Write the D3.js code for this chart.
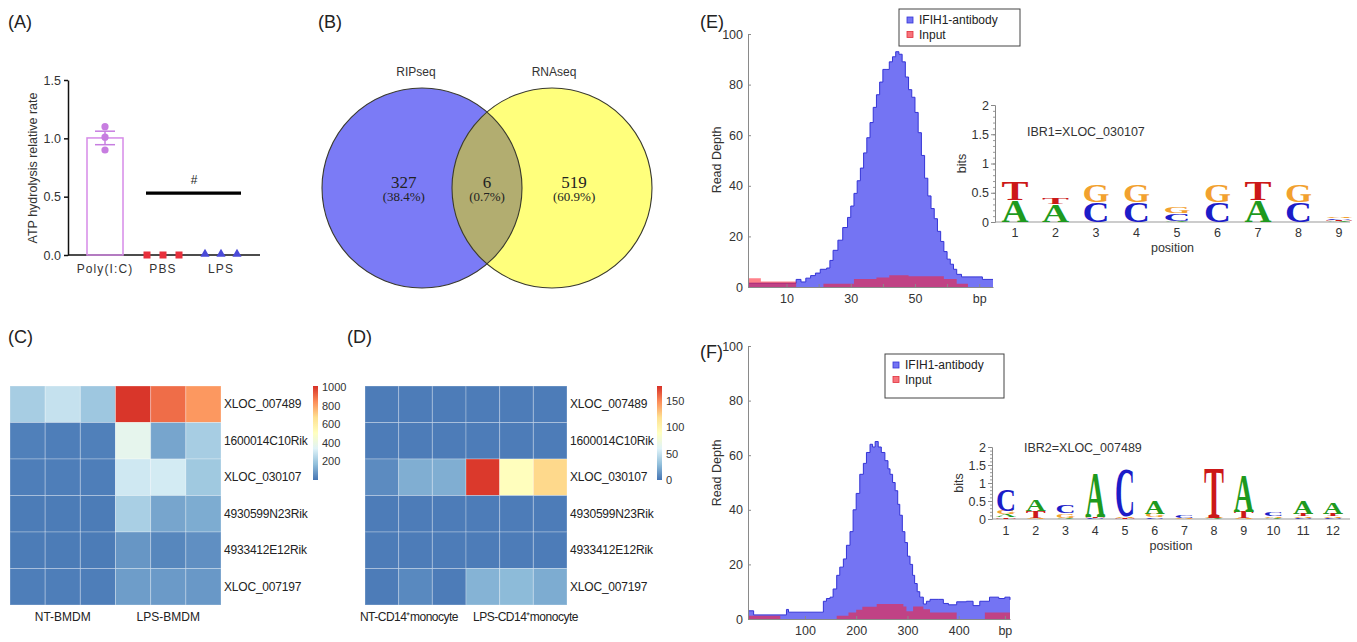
<!DOCTYPE html>
<html lang="en">
<head>
<meta charset="utf-8">
<title>IFIH1 binding lncRNA figure</title>
<script src="https://d3js.org/d3.v7.min.js"></script>
<style>
  body { margin: 0; background: #fff; }
</style>
</head>
<body>
<script>
// ---------- data ----------
// (A) ATP hydrolysis
const atpGroups = ["Poly(I:C)", "PBS", "LPS"];
const atpPoly = [1.10, 1.01, 0.90];
const atpPBS = [0, 0, 0];
const atpLPS = [0, 0, 0];
const atpTicks = [0, 0.5, 1.0, 1.5];
const atpSigLevel = 0.53;

// (B) Venn
const vennSets = ["RIPseq", "RNAseq"];
const vennCounts = [327, 6, 519];
const vennPct = ["(38.4%)", "(0.7%)", "(60.9%)"];

// (C)/(D) heatmaps
const heatRows = ["XLOC_007489", "1600014C10Rik", "XLOC_030107", "4930599N23Rik", "4933412E12Rik", "XLOC_007197"];
const bmdmGroups = ["NT-BMDM", "LPS-BMDM"];
const bmdmValues = [
  [215, 280, 195, 1000, 900, 820],
  [25, 20, 25, 370, 110, 215],
  [20, 20, 20, 300, 310, 200],
  [15, 15, 15, 220, 110, 125],
  [15, 15, 15, 75, 40, 60],
  [20, 20, 20, 90, 85, 80]
];
const bmdmTicks = [200, 400, 600, 800, 1000];
const monoGroups = ["NT-CD14\u207Amonocyte", "LPS-CD14\u207Amonocyte"];
const monoValues = [
  [3, 3, 3, 3, 3, 3],
  [3, 3, 3, 3, 3, 3],
  [9, 23, 23, 175, 90, 121],
  [3, 3, 3, 3, 3, 3],
  [3, 3, 3, 3, 3, 3],
  [3, 8, 3, 25, 28, 22]
];
const monoTicks = [0, 50, 100, 150];

// (E)/(F) read depth, [bp, depth] step points
const depthTicks = [0, 20, 40, 60, 80, 100];
const peakEab = [[-2,1.5],[13,3],[14.5,2],[16,3.5],[17.5,4.5],[19,5.5],[20.5,7],[22.5,7.5],[23.5,10.5],[24.5,14.5],[26,18.5],[27.5,23.5],[29,27.5],[30,32],[31,37],[32,42],[33,47],[34,53],[35,59],[36,65],[37,71],[38,76],[39,81],[40,86],[41,86],[42,89],[43,91],[44,93],[45,92],[46,89],[47,83],[48,78],[49,75],[50,69],[51,61],[52,52],[53,43],[54,36],[55,31],[56,27],[57,22],[58,18],[59,14],[60,11],[61,9],[62,7],[63,5],[64.5,4],[69,4],[71,3],[74.3,3]];
const peakEinput = [[-2,3.5],[2,2.2],[13,0],[21.5,1.3],[31,3.2],[38,3.8],[42,4.6],[48,4.2],[59,3.2],[63,1.3],[66.5,0],[74.3,0]];
const bpTicksE = [10, 20, 30, 40, 50, 60, 70];
const bpLabelsE = {10: "10", 30: "30", 50: "50", 70: "bp"};
const peakFab = [[-11,3],[0,1.5],[64,3.5],[68,2.5],[136,6.5],[142,7.5],[149,8],[155,11],[162,16],[168,19],[175,22],[181,27],[188,32],[194,40],[200,46],[207,53],[214,57],[220,61],[227,64],[232,63],[237,65],[243,63],[249,61],[256,58],[262,55],[266,53],[271,50],[276,47],[281,42],[285,38],[290,32],[295,28],[300,23],[305,20],[310,16],[314,13],[319,10],[324,8],[331,5.5],[337,6.5],[344,7.2],[360,7.2],[370,5.7],[380,5.2],[396,6.3],[415,6.5],[428,4.9],[441,6.5],[460,8],[478,7.5],[490,8],[500,7]];
const peakFinput = [[-11,1.2],[52,0],[162,1.2],[185,2.4],[200,3.4],[212,4.5],[240,5.5],[292,4.6],[298,2.8],[311,4.6],[331,3.6],[344,2.4],[396,0],[451,2.4],[500,2.4]];
const bpTicksF = [100, 200, 300, 400, 490];
const bpLabelsF = {100: "100", 200: "200", 300: "300", 400: "400", 490: "bp"};
const peakSeries = ["IFIH1-antibody", "Input"];

// motif logos, stacks bottom -> top, [base, bits]
const bitTicks = [0, 0.5, 1, 1.5, 2];
const logo1 = [
  [["A",0.37],["T",0.31]],
  [["A",0.30],["T",0.09]],
  [["C",0.34],["G",0.30]],
  [["C",0.34],["G",0.30]],
  [["A",0.02],["C",0.13],["G",0.09]],
  [["C",0.34],["G",0.30]],
  [["A",0.37],["T",0.31]],
  [["C",0.34],["G",0.30]],
  [["A",0.02],["T",0.02],["C",0.02],["G",0.02]]
];
const logo2 = [
  [["T",0.05],["A",0.08],["G",0.10],["C",0.60]],
  [["G",0.03],["T",0.20],["A",0.33]],
  [["A",0.04],["G",0.12],["C",0.22]],
  [["C",0.02],["T",0.03],["A",1.25]],
  [["T",0.03],["G",0.04],["C",1.33]],
  [["C",0.05],["G",0.10],["A",0.36]],
  [["G",0.03],["C",0.07]],
  [["A",0.02],["G",0.02],["T",1.38]],
  [["G",0.02],["T",0.18],["A",1.02]],
  [["A",0.04],["G",0.04],["C",0.10]],
  [["C",0.03],["G",0.04],["T",0.07],["A",0.36]],
  [["C",0.03],["G",0.04],["T",0.08],["A",0.33]]
];
const logoNames = ["IBR1=XLOC_030107", "IBR2=XLOC_007489"];

// ---------- setup ----------
const SANS = "'Liberation Sans', Arial, Helvetica, sans-serif";
const SERIF = "'Liberation Serif', 'Times New Roman', serif";
const svg = d3.select("body").append("svg")
    .attr("width", 1357).attr("height", 642)
    .attr("font-family", SANS);

function styleAxis(g, col, fs) {
  g.attr("font-family", SANS).attr("font-size", fs);
  g.select(".domain").attr("stroke", col);
  g.selectAll(".tick line").attr("stroke", col);
  g.selectAll(".tick text").attr("fill", "#333");
}

// panel tags
[["(A)", 8, 28], ["(B)", 318, 28], ["(C)", 8, 343], ["(D)", 347, 343], ["(E)", 700, 28], ["(F)", 700, 358]]
  .forEach(t => svg.append("text").attr("x", t[1]).attr("y", t[2])
    .attr("font-size", 18).attr("fill", "#222").text(t[0]));

// ---------- (A) ----------
const gA = svg.append("g");
const aY = d3.scaleLinear().domain([0, 1.5]).range([255, 80]);
const aX = d3.scaleBand().domain(atpGroups).range([76, 250]);
const aC = c => aX(c) + aX.bandwidth() / 2;

gA.append("g").attr("transform", "translate(68,0)")
  .call(d3.axisLeft(aY).tickValues(atpTicks).tickFormat(d3.format(".1f")).tickSize(4).tickSizeOuter(0))
  .call(g => styleAxis(g, "#111", 12.5))
  .call(g => g.selectAll("path, line").attr("stroke-width", 1.5));
gA.append("line").attr("x1", 68).attr("x2", 260).attr("y1", aY(0)).attr("y2", aY(0))
  .attr("stroke", "#111").attr("stroke-width", 1.5);
gA.selectAll(".xl").data(atpGroups).join("text")
  .attr("x", d => aC(d)).attr("y", 273).attr("text-anchor", "middle")
  .attr("font-size", 12).attr("letter-spacing", 1.1).attr("fill", "#333").text(d => d);
gA.append("text").attr("transform", "translate(37,168) rotate(-90)")
  .attr("text-anchor", "middle").attr("font-size", 12.5).attr("fill", "#333")
  .text("ATP hydrolysis relative rate");

// Poly(I:C) bar
const polyMean = d3.mean(atpPoly);
const polySem = d3.deviation(atpPoly) / Math.sqrt(atpPoly.length);
gA.append("rect").attr("x", aC("Poly(I:C)") - 18).attr("width", 36)
  .attr("y", aY(polyMean)).attr("height", aY(0) - aY(polyMean))
  .attr("fill", "none").attr("stroke", "#d68be8").attr("stroke-width", 1.5);
[polyMean - polySem, polyMean + polySem].forEach(v =>
  gA.append("line").attr("x1", aC("Poly(I:C)") - 10).attr("x2", aC("Poly(I:C)") + 10)
    .attr("y1", aY(v)).attr("y2", aY(v)).attr("stroke", "#c77de0").attr("stroke-width", 1.5));
gA.append("line").attr("x1", aC("Poly(I:C)")).attr("x2", aC("Poly(I:C)"))
  .attr("y1", aY(polyMean - polySem)).attr("y2", aY(polyMean + polySem))
  .attr("stroke", "#c77de0").attr("stroke-width", 1.5);
gA.selectAll(".pd").data(atpPoly).join("circle")
  .attr("cx", aC("Poly(I:C)")).attr("cy", d => aY(d)).attr("r", 3.6).attr("fill", "#c77de0");
const jit = [-16, 0, 16];
gA.selectAll(".pbs").data(atpPBS).join("rect")
  .attr("x", (d, i) => aC("PBS") + jit[i] - 3.5).attr("y", d => aY(d) - 3.5)
  .attr("width", 7).attr("height", 7).attr("fill", "#e8303c");
gA.selectAll(".lps").data(atpLPS).join("path")
  .attr("d", d3.symbol(d3.symbolTriangle, 36))
  .attr("transform", (d, i) => `translate(${aC("LPS") + jit[i]},${aY(d) - 1})`)
  .attr("fill", "#4a4ad8");
gA.append("line").attr("x1", aC("PBS") - 17).attr("x2", aC("LPS") + 20)
  .attr("y1", aY(atpSigLevel)).attr("y2", aY(atpSigLevel))
  .attr("stroke", "#000").attr("stroke-width", 3.2);
gA.append("text").attr("x", (aC("PBS") + aC("LPS")) / 2 + 2).attr("y", aY(atpSigLevel) - 9)
  .attr("text-anchor", "middle").attr("font-size", 12).attr("fill", "#222").text("#");

// ---------- (B) ----------
const gB = svg.append("g");
const vX = d3.scaleLinear().domain([0, 1]).range([422, 552]);
const vR = 100, vCy = 188;
svg.append("clipPath").attr("id", "clipRight")
  .append("circle").attr("cx", vX(1)).attr("cy", vCy).attr("r", vR);
gB.append("circle").attr("cx", vX(0)).attr("cy", vCy).attr("r", vR).attr("fill", "#7b7bf6");
gB.append("circle").attr("cx", vX(1)).attr("cy", vCy).attr("r", vR).attr("fill", "#ffff7c");
gB.append("circle").attr("cx", vX(0)).attr("cy", vCy).attr("r", vR).attr("fill", "#b2ad70")
  .attr("clip-path", "url(#clipRight)");
[0, 1].forEach(i => gB.append("circle").attr("cx", vX(i)).attr("cy", vCy).attr("r", vR)
  .attr("fill", "none").attr("stroke", "#3a3a2e").attr("stroke-width", 1.1));
gB.selectAll(".vs").data(vennSets).join("text")
  .attr("x", (d, i) => vX(i) - 6 + i * 8).attr("y", 76).attr("text-anchor", "middle")
  .attr("font-size", 12).attr("fill", "#333").text(d => d);
const vennPos = [vX(-0.14), vX(0.5), vX(1.17)];
gB.selectAll(".vc").data(vennCounts).join("text")
  .attr("x", (d, i) => vennPos[i]).attr("y", 188).attr("text-anchor", "middle")
  .attr("font-family", SERIF).attr("font-size", 17).attr("fill", "#222").text(d => d);
gB.selectAll(".vp").data(vennPct).join("text")
  .attr("x", (d, i) => vennPos[i]).attr("y", 201).attr("text-anchor", "middle")
  .attr("font-family", SERIF).attr("font-size", 13).attr("fill", "#222").text(d => d);

// ---------- (C)/(D) heatmaps ----------
const heatCols = ["#4575b4", "#91bfdb", "#e0f3f8", "#ffffbf", "#fee090", "#fc8d59", "#d73027"];

function drawHeat(id, values, groups, xr, maxV, barX, ticks, groupAnchor) {
  const g = svg.append("g");
  const x = d3.scaleBand().domain(d3.range(values[0].length)).range(xr);
  const y = d3.scaleBand().domain(heatRows).range([386, 605]);
  const col = d3.scaleLinear()
    .domain(heatCols.map((c, i) => maxV * i / (heatCols.length - 1)))
    .range(heatCols).clamp(true);
  values.forEach((row, r) => {
    g.selectAll(".r" + r).data(row).join("rect")
      .attr("x", (d, i) => x(i)).attr("y", y(heatRows[r]))
      .attr("width", x.bandwidth()).attr("height", y.bandwidth())
      .attr("fill", d => col(d))
      .attr("stroke", "#ffffff").attr("stroke-opacity", 0.28).attr("stroke-width", 1);
  });
  g.selectAll(".rl").data(heatRows).join("text")
    .attr("x", xr[1] + 3).attr("y", d => y(d) + y.bandwidth() / 2 + 4)
    .attr("font-size", 12).attr("fill", "#222").attr("letter-spacing", -0.2).text(d => d);
  const mid = x(3);
  g.selectAll(".gl").data(groups).join("text")
    .attr("x", (d, i) => groupAnchor ? (i === 0 ? mid - 8 : mid + 7)
                                     : (i === 0 ? (xr[0] + mid) / 2 : (mid + xr[1]) / 2))
    .attr("y", 621)
    .attr("text-anchor", (d, i) => groupAnchor ? (i === 0 ? "end" : "start") : "middle")
    .attr("font-size", 12).attr("fill", "#222").attr("letter-spacing", groupAnchor ? -0.5 : 0)
    .text(d => d);
  // colour bar
  const cb = d3.scaleLinear().domain([0, maxV]).range([480, 386]);
  const grad = svg.append("defs").append("linearGradient").attr("id", id)
    .attr("x1", 0).attr("y1", 1).attr("x2", 0).attr("y2", 0);
  heatCols.forEach((c, i) => grad.append("stop")
    .attr("offset", i / (heatCols.length - 1)).attr("stop-color", c));
  g.append("rect").attr("x", barX).attr("y", cb(maxV)).attr("width", 5)
    .attr("height", cb(0) - cb(maxV)).attr("fill", `url(#${id})`);
  g.selectAll(".cbl").data(ticks).join("text")
    .attr("x", barX + 9).attr("y", d => cb(d) + 4)
    .attr("font-size", 11).attr("fill", "#333").text(d => d);
}
drawHeat("gradC", bmdmValues, bmdmGroups, [10, 221], 1010, 313, bmdmTicks, false);
drawHeat("gradD", monoValues, monoGroups, [365, 567], 178, 657, monoTicks, true);

// ---------- (E)/(F) peaks ----------
function drawPeak(ab, inp, xDom, xr, yr, ticks, labels, leg, ylabY) {
  const g = svg.append("g");
  const x = d3.scaleLinear().domain(xDom).range(xr);
  const y = d3.scaleLinear().domain([0, 100]).range(yr);
  const area = d3.area().x(d => x(d[0])).y0(y(0)).y1(d => y(d[1])).curve(d3.curveStepAfter);
  const top = d3.line().x(d => x(d[0])).y(d => y(d[1])).curve(d3.curveStepAfter);
  g.append("path").datum(ab).attr("d", area).attr("fill", "#7474f3");
  g.append("path").datum(ab).attr("d", top).attr("fill", "none")
    .attr("stroke", "#3434d6").attr("stroke-width", 1);
  g.append("path").datum(inp).attr("d", area).attr("fill", "#ff1a2a").attr("fill-opacity", 0.55);
  g.append("g").attr("transform", `translate(${xr[0]},0)`)
    .call(d3.axisLeft(y).tickValues(depthTicks).tickSize(-3).tickPadding(5).tickSizeOuter(0))
    .call(a => styleAxis(a, "#8a8a8a", 12.5));
  g.append("g").attr("transform", `translate(0,${yr[0]})`)
    .call(d3.axisBottom(x).tickValues(ticks).tickFormat(d => labels[d] || "")
      .tickSize(-3).tickPadding(7).tickSizeOuter(0))
    .call(a => styleAxis(a, "#8a8a8a", 12.5));
  g.append("text").attr("transform", `translate(${xr[0] - 27},${ylabY}) rotate(-90)`)
    .attr("text-anchor", "middle").attr("font-size", 12.5).attr("fill", "#333").text("Read Depth");
  // legend
  g.append("rect").attr("x", leg[0]).attr("y", leg[1]).attr("width", leg[2]).attr("height", leg[3])
    .attr("fill", "#fff").attr("stroke", "#444").attr("stroke-width", 1);
  const legCols = [["#7474f3", "#3434d6"], ["#f7737b", "#e0303c"]];
  peakSeries.forEach((s, i) => {
    const yy = leg[1] + 15 + i * 14.5;
    g.append("rect").attr("x", leg[0] + 8).attr("y", yy - 7).attr("width", 6).attr("height", 6)
      .attr("fill", legCols[i][0]).attr("stroke", legCols[i][1]).attr("stroke-width", 0.8);
    g.append("text").attr("x", leg[0] + 20).attr("y", yy).attr("font-size", 12)
      .attr("fill", "#222").text(s);
  });
}
drawPeak(peakEab, peakEinput, [-2, 74.3], [748, 993], [287, 34], bpTicksE, bpLabelsE, [899, 9, 121, 37], 160);
drawPeak(peakFab, peakFinput, [-11, 500], [748, 1010], [619, 346], bpTicksF, bpLabelsF, [885, 354, 119, 44], 473);

// ---------- motif logos ----------
const baseCols = {A: "#1e9a1e", C: "#1c1cc8", G: "#f2a12e", T: "#cc1818"};
function drawLogo(data, name, xr, yr, axisX, letterW, posY, nameY) {
  const g = svg.append("g");
  const x = d3.scalePoint().domain(data.map((d, i) => i + 1)).range(xr);
  const y = d3.scaleLinear().domain([0, 2]).range(yr);
  g.append("g").attr("transform", `translate(${axisX},0)`)
    .call(d3.axisLeft(y).tickValues(d3.range(0, 2.01, 0.1)).tickFormat("").tickSize(2).tickSizeOuter(0))
    .call(a => styleAxis(a, "#999", 12));
  g.append("g").attr("transform", `translate(${axisX},0)`)
    .call(d3.axisLeft(y).tickValues(bitTicks).tickFormat(d3.format("~g")).tickSize(4).tickPadding(2).tickSizeOuter(0))
    .call(a => styleAxis(a, "#888", 12.5));
  g.append("line").attr("x1", axisX).attr("x2", 1350).attr("y1", y(0)).attr("y2", y(0))
    .attr("stroke", "#999").attr("stroke-width", 1);
  g.selectAll(".pn").data(x.domain()).join("text")
    .attr("x", d => x(d)).attr("y", posY).attr("text-anchor", "middle")
    .attr("font-size", 12.5).attr("fill", "#333").text(d => d);
  g.append("text").attr("x", (axisX + 1350) / 2).attr("y", posY + 15).attr("text-anchor", "middle")
    .attr("font-size", 12.5).attr("fill", "#333").text("position");
  g.append("text").attr("transform", `translate(${axisX - 29},${(yr[0] + yr[1]) / 2}) rotate(-90)`)
    .attr("text-anchor", "middle").attr("font-size", 12.5).attr("fill", "#333").text("bits");
  g.append("text").attr("x", axisX + 32).attr("y", nameY)
    .attr("font-size", 12.5).attr("fill", "#333").text(name);
  data.forEach((stack, i) => {
    let acc = 0;
    stack.forEach(([b, bits]) => {
      const yBot = y(acc), yTop = y(acc + bits);
      acc += bits;
      const h = yBot - yTop;
      if (h < 0.6) return;
      const t = g.append("text").text(b)
        .attr("font-family", SERIF).attr("font-weight", "bold")
        .attr("font-size", 100).attr("fill", baseCols[b]);
      const adv = t.node().getComputedTextLength();
      t.attr("transform", `translate(${x(i + 1) - letterW / 2},${yBot}) scale(${letterW / adv},${h / 68})`);
    });
  });
}
drawLogo(logo1, logoNames[0], [1015, 1339], [222, 105], 995, 27, 237, 136);
drawLogo(logo2, logoNames[1], [1006, 1333], [519, 447], 992, 20, 535, 452);
</script>
</body>
</html>
